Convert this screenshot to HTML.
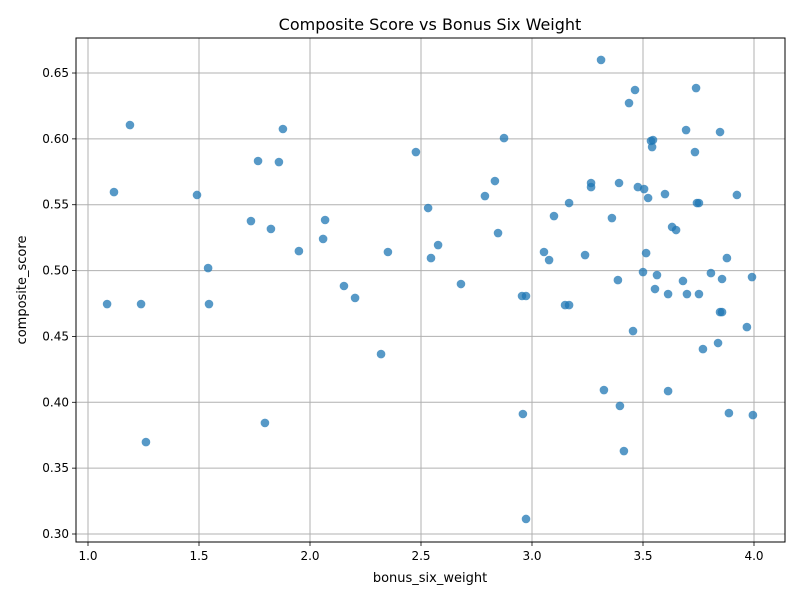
<!DOCTYPE html>
<html><head><meta charset="utf-8"><style>
html,body{margin:0;padding:0;background:#fff;}
svg{display:block;font-family:"DejaVu Sans","Liberation Sans",sans-serif;}
</style></head><body>
<svg id="chart" width="800" height="600" xmlns="http://www.w3.org/2000/svg">
<rect width="800" height="600" fill="#fff"/>
<text x="430" y="30" text-anchor="middle" font-size="16">Composite Score vs Bonus Six Weight</text>
<text x="430" y="582" text-anchor="middle" font-size="13">bonus_six_weight</text>
<text transform="translate(26,290) rotate(-90)" text-anchor="middle" font-size="13">composite_score</text>
<g id="grid"></g><g id="pts"></g><g id="axes"></g>
</svg>
<script>
const xTicks=[1.0,1.5,2.0,2.5,3.0,3.5,4.0];
const yTicks=[0.30,0.35,0.40,0.45,0.50,0.55,0.60,0.65];
const xVals=[1.086,1.117,1.189,1.239,1.261,1.491,1.541,1.545,1.734,1.766,1.797,1.824,1.860,1.878,1.950,2.059,2.068,2.153,2.203,2.320,2.351,2.477,2.532,2.545,2.577,2.680,2.788,2.833,2.847,2.874,2.955,2.973,2.959,2.973,3.054,3.077,3.099,3.149,3.167,3.167,3.239,3.266,3.266,3.311,3.324,3.360,3.387,3.392,3.396,3.414,3.437,3.455,3.464,3.477,3.500,3.505,3.514,3.523,3.536,3.545,3.541,3.554,3.563,3.599,3.613,3.613,3.631,3.649,3.680,3.694,3.698,3.734,3.739,3.743,3.752,3.752,3.770,3.806,3.838,3.847,3.847,3.856,3.856,3.878,3.887,3.923,3.968,3.991,3.995];
const yVals=[0.4746,0.5596,0.6105,0.4746,0.3698,0.5574,0.5019,0.4746,0.5376,0.5832,0.3843,0.5316,0.5824,0.6075,0.5148,0.5240,0.5384,0.4883,0.4792,0.4366,0.5141,0.5900,0.5475,0.5095,0.5194,0.4898,0.5566,0.5680,0.5285,0.6006,0.4807,0.4807,0.3911,0.3114,0.5141,0.5080,0.5414,0.4738,0.4738,0.5513,0.5118,0.5665,0.5634,0.6599,0.4093,0.5399,0.4928,0.5665,0.3972,0.3630,0.6272,0.4541,0.6371,0.5634,0.4989,0.5619,0.5133,0.5551,0.5984,0.5991,0.5938,0.4860,0.4966,0.5581,0.4822,0.4085,0.5331,0.5308,0.4921,0.6067,0.4822,0.5900,0.6386,0.5513,0.5513,0.4822,0.4404,0.4981,0.4450,0.6052,0.4685,0.4685,0.4936,0.5095,0.3918,0.5574,0.4571,0.4951,0.3903];
const L=76,R=785,T=38,B=542;
const X=v=>88+(v-1)*222;
const Y=v=>534-(v-0.30)*1317.1;
const NS="http://www.w3.org/2000/svg";
function mk(tag,attrs,parent){const e=document.createElementNS(NS,tag);for(const k in attrs)e.setAttribute(k,attrs[k]);parent.appendChild(e);return e;}
const grid=document.getElementById('grid'),pts=document.getElementById('pts'),axes=document.getElementById('axes');
xTicks.forEach(t=>{
 const g=mk('line',{x1:X(t),x2:X(t),y1:T,y2:B,stroke:'#b0b0b0','stroke-width':1},grid);
 
 
 mk('line',{x1:X(t),x2:X(t),y1:B,y2:B+4,stroke:'#000','stroke-width':0.8},axes);
 const tx=mk('text',{x:X(t),y:B+18,'text-anchor':'middle','font-size':12},axes);
 tx.textContent=t.toFixed(1);
 
 
});
yTicks.forEach(t=>{
 const g=mk('line',{x1:L,x2:R,y1:Y(t),y2:Y(t),stroke:'#b0b0b0','stroke-width':1},grid);
 
 
 mk('line',{x1:L-4,x2:L,y1:Y(t),y2:Y(t),stroke:'#000','stroke-width':0.8},axes);
 const tx=mk('text',{x:L-7,y:Y(t)+4,'text-anchor':'end','font-size':12},axes);
 tx.textContent=t.toFixed(2);
 
 
});
xVals.forEach((v,i)=>{
 const c=mk('circle',{cx:X(v),cy:Y(yVals[i]),r:4.3,fill:'#1f77b4','fill-opacity':0.75},pts);
 
 
});
const f=mk('rect',{x:L,y:T,width:R-L,height:B-T,fill:'none',stroke:'#000','stroke-width':1},axes);


</script>
</body></html>
